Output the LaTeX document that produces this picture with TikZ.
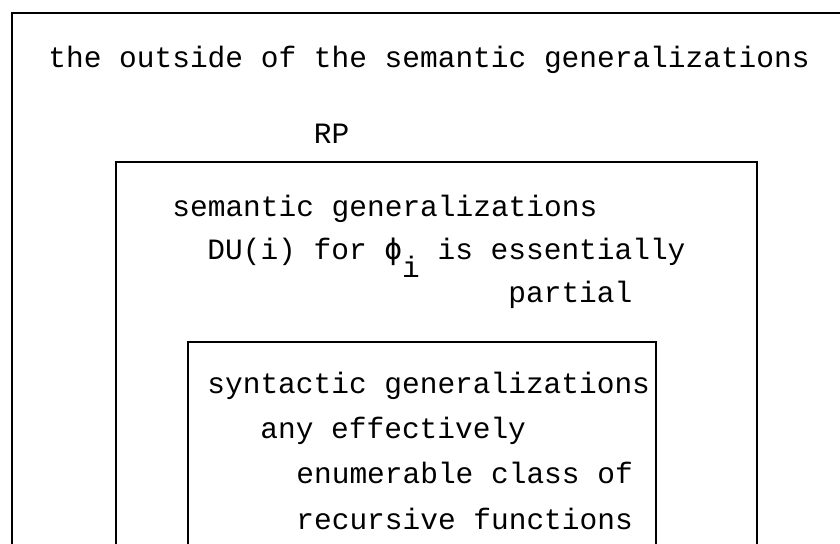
\documentclass[tikz,border=0pt]{standalone}
\usepackage{fontspec}
\setmonofont{Liberation Mono}
\newfontfamily\phifont{DejaVu Sans Mono}
\begin{document}
\begin{tikzpicture}[x=0.5pt,y=-0.5pt,
    txt/.style={anchor=base west,inner sep=0pt,font=\fontsize{14.75}{18}\ttfamily},
    frame/.style={line width=1pt}]
      \useasboundingbox (0,0) rectangle (840,543);
      \clip (0,0) rectangle (840,543);
      \fill [white] (0,0) rectangle (840,543);
      % the three boxes, cut by the page
      \draw [frame] (12,13) rectangle (900,620);
      \draw [frame] (116,162) rectangle (757,620);
      \draw [frame] (188,342) rectangle (656,620);
      % outside
      \node (outside) [txt] at (48,67) {the outside of the semantic generalizations};
      \node (rp) [txt] at (313.5,143) {RP};
      % semantic box
      \node (sem) [txt] at (172,216) {semantic generalizations};
      \node (du) [txt] at (207,259) {DU(i) for {\phifont ϕ}\raisebox{-9pt}{i} is essentially};
      \node (partial) [txt] at (508,302) {partial};
      % syntactic box
      \node (syn) [txt] at (207,393) {syntactic generalizations};
      \node (any) [txt] at (260,438) {any effectively};
      \node (enum) [txt] at (296,483) {enumerable class of};
      \node (rec) [txt] at (296,529) {recursive functions};
\end{tikzpicture}
\end{document}
